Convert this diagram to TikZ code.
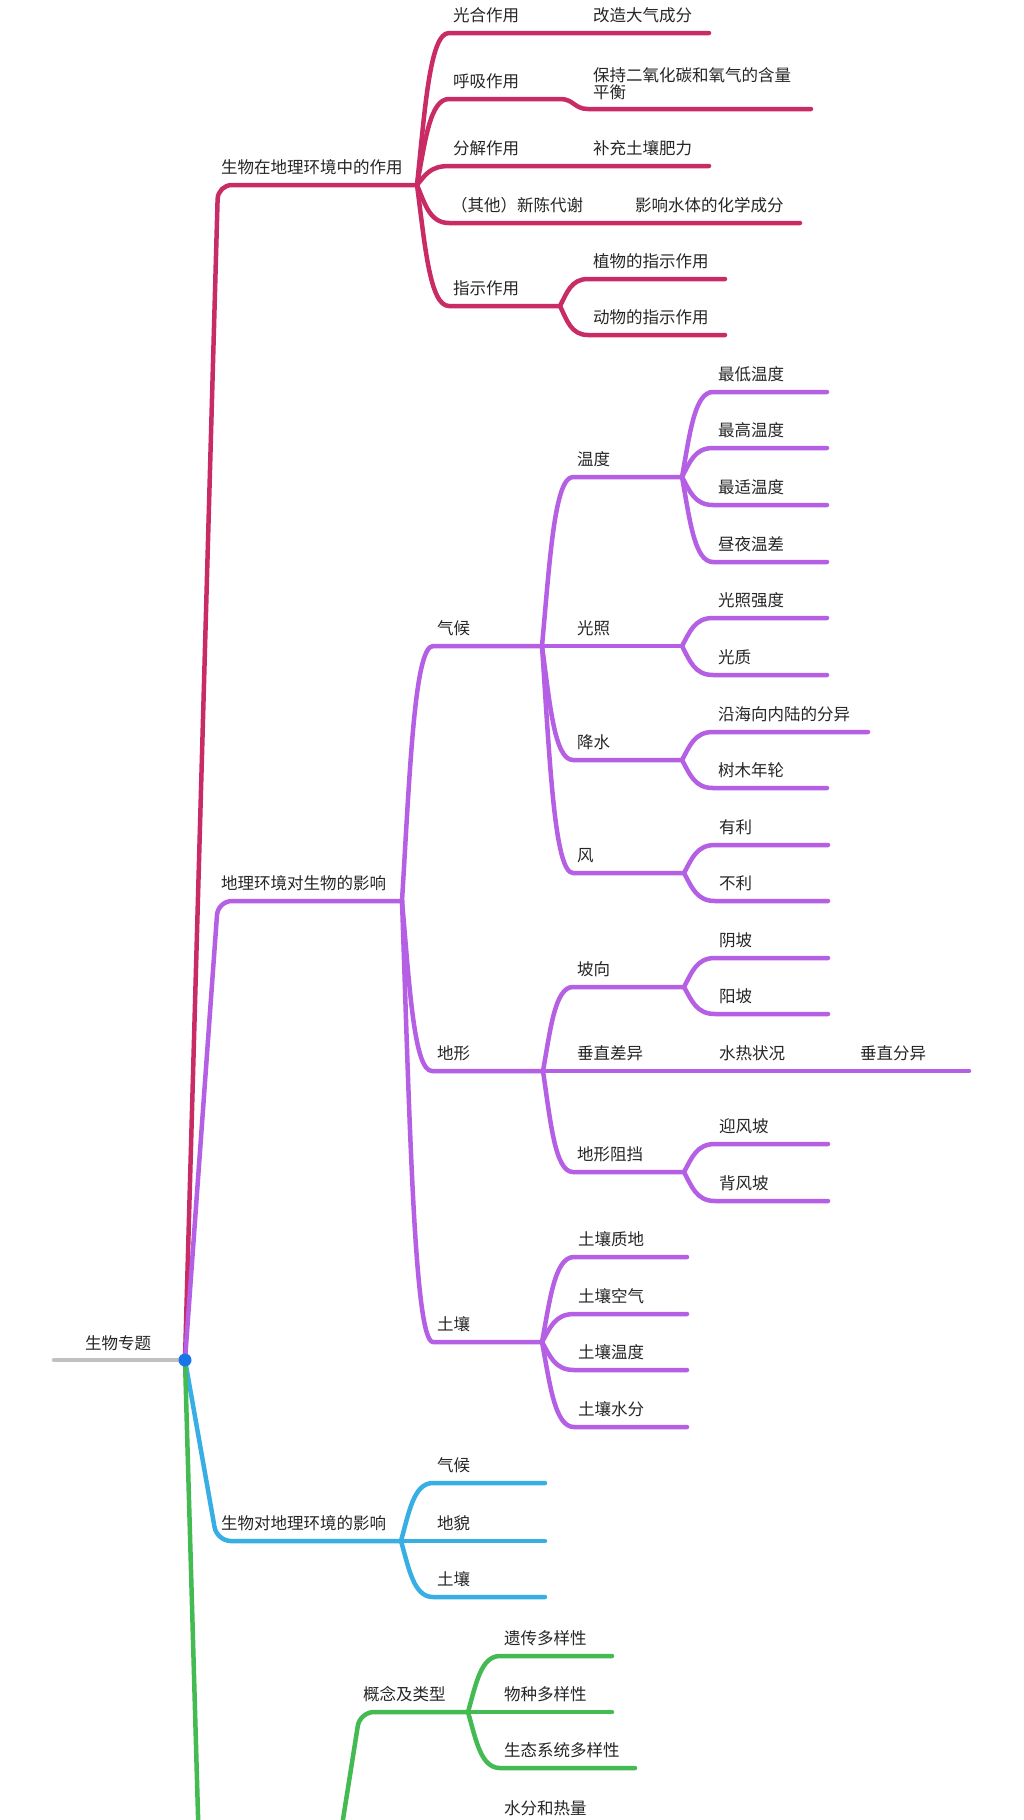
\documentclass[tikz,border=0pt]{standalone}
\usepackage{fontspec}
\setmainfont{Noto Sans CJK SC}
\usetikzlibrary{positioning}
\usetikzlibrary{calc}
\usepackage{xcolor}

\definecolor{mag}{RGB}{201,43,101}
\definecolor{pur}{RGB}{180,95,228}
\definecolor{sky}{RGB}{55,175,228}
\definecolor{grn}{RGB}{68,186,82}
\definecolor{gry}{RGB}{192,192,192}
\definecolor{dotblue}{RGB}{25,118,232}
\definecolor{txt}{RGB}{38,38,38}

\newcommand{\labfont}{\fontsize{16.5pt}{17pt}\selectfont}

\tikzset{
  ln/.style={line width=4.5pt, line cap=round, line join=round},
  br/.style={ln, rounded corners=14pt},
  kid/.style={to path={.. controls ($0.25*(\tikztostart)+0.25*(\tikztostart -| \tikztotarget)+0.5*(\tikztostart |- \tikztotarget)$)
      and ($0.6*(\tikztostart |- \tikztotarget)+0.4*(\tikztotarget)$) .. (\tikztotarget) \tikztonodes}},
  lbl/.style={font=\labfont, text=txt, inner sep=0pt, text height=12pt, text depth=3pt},
  rootdot/.style={circle, fill=dotblue, inner sep=0pt, minimum size=13pt}
}

\begin{document}
\begin{tikzpicture}[x=1pt, y=-1pt]

\fill[white] (0,0) rectangle (1024,1820);
\clip (0,0) rectangle (1024,1820);

% root
\coordinate (root-s) at (54,1360);
\coordinate (root-m) at (118,1360);
\coordinate (root) at (185,1360);
\node[lbl, above=7pt of root-m] (bio) {生物专题};

% magenta branch
\coordinate (role-s) at (218,185);   \coordinate (role-e) at (417,185);
\coordinate (photo-s) at (449,33);   \coordinate (photo-e) at (560,33);
\coordinate (photo2-s) at (588,33);  \coordinate (photo2-e) at (709,33);
\coordinate (resp-s) at (449,99);    \coordinate (resp-e) at (560,99);
\coordinate (resp2-s) at (588,109);  \coordinate (resp2-e) at (811,109);
\coordinate (decomp-s) at (449,166); \coordinate (decomp-e) at (560,166);
\coordinate (decomp2-s) at (588,166);\coordinate (decomp2-e) at (709,166);
\coordinate (meta-s) at (449,223);   \coordinate (meta-e) at (600,223);
\coordinate (meta2-s) at (630,223);  \coordinate (meta2-e) at (800,223);
\coordinate (indic-s) at (449,306);  \coordinate (indic-e) at (560,306);
\coordinate (plant-s) at (588,279);  \coordinate (plant-e) at (725,279);
\coordinate (animal-s) at (588,335); \coordinate (animal-e) at (725,335);

\node[lbl, above right=8pt and 3pt of role-s] (role) {生物在地理环境中的作用};
\node[lbl, above right=8pt and 4pt of photo-s] (photo) {光合作用};
\node[lbl, above right=8pt and 5pt of photo2-s] (photo2) {改造大气成分};
\node[lbl, above right=8pt and 4pt of resp-s] (resp) {呼吸作用};
\node[font=\labfont, text=txt, inner sep=0pt, align=left, above right=9pt and 5pt of resp2-s] (resp2) {保持二氧化碳和氧气的含量\\平衡};
\node[lbl, above right=8pt and 4pt of decomp-s] (decomp) {分解作用};
\node[lbl, above right=8pt and 5pt of decomp2-s] (decomp2) {补充土壤肥力};
\node[lbl, above right=8pt and 2pt of meta-s] (meta) {（其他）新陈代谢};
\node[lbl, above right=8pt and 5pt of meta2-s] (meta2) {影响水体的化学成分};
\node[lbl, above right=8pt and 4pt of indic-s] (indic) {指示作用};
\node[lbl, above right=8pt and 5pt of plant-s] (plant) {植物的指示作用};
\node[lbl, above right=8pt and 5pt of animal-s] (animal) {动物的指示作用};

\draw[br, mag] (root) -- (role-s) -- (role-e);
\draw[ln, mag] (role-e) to[kid] (photo-s) -- (photo-e) -- (photo2-s) -- (photo2-e);
\draw[ln, mag] (role-e) to[kid] (resp-s) -- (resp-e) .. controls +(14,0) and +(-14,0) .. (resp2-s) -- (resp2-e);
\draw[ln, mag] (role-e) to[kid] (decomp-s) -- (decomp-e) -- (decomp2-s) -- (decomp2-e);
\draw[ln, mag] (role-e) to[kid] (meta-s) -- (meta-e) -- (meta2-s) -- (meta2-e);
\draw[ln, mag] (role-e) to[kid] (indic-s) -- (indic-e);
\draw[ln, mag] (indic-e) to[kid] (plant-s) -- (plant-e);
\draw[ln, mag] (indic-e) to[kid] (animal-s) -- (animal-e);

% purple branch
\coordinate (effect-s) at (218,901); \coordinate (effect-e) at (402,901);
\coordinate (clim-s) at (433,646);   \coordinate (clim-e) at (542,646);
\coordinate (temp-s) at (573,477);   \coordinate (temp-e) at (682,477);
\coordinate (tmin-s) at (713,392);   \coordinate (tmin-e) at (827,392);
\coordinate (tmax-s) at (713,448);   \coordinate (tmax-e) at (827,448);
\coordinate (topt-s) at (713,505);   \coordinate (topt-e) at (827,505);
\coordinate (tdiff-s) at (713,562);  \coordinate (tdiff-e) at (827,562);
\coordinate (light-s) at (573,646);  \coordinate (light-e) at (682,646);
\coordinate (lint-s) at (713,618);   \coordinate (lint-e) at (827,618);
\coordinate (lqual-s) at (713,675);  \coordinate (lqual-e) at (827,675);
\coordinate (rain-s) at (573,760);   \coordinate (rain-e) at (682,760);
\coordinate (coast-s) at (713,732);  \coordinate (coast-e) at (868,732);
\coordinate (rings-s) at (713,788);  \coordinate (rings-e) at (827,788);
\coordinate (wind-s) at (573,873);   \coordinate (wind-e) at (684,873);
\coordinate (good-s) at (715,845);   \coordinate (good-e) at (828,845);
\coordinate (bad-s) at (715,901);    \coordinate (bad-e) at (828,901);
\coordinate (terr-s) at (432,1071);  \coordinate (terr-e) at (543,1071);
\coordinate (aspect-s) at (573,987); \coordinate (aspect-e) at (684,987);
\coordinate (shady-s) at (715,958);  \coordinate (shady-e) at (828,958);
\coordinate (sunny-s) at (715,1014); \coordinate (sunny-e) at (828,1014);
\coordinate (vert-s) at (573,1071);  \coordinate (vert-e) at (684,1071);
\coordinate (hydro-s) at (715,1071); \coordinate (hydro-e) at (828,1071);
\coordinate (vzone-s) at (856,1071); \coordinate (vzone-e) at (969,1071);
\coordinate (block-s) at (573,1172); \coordinate (block-e) at (684,1172);
\coordinate (windw-s) at (715,1144); \coordinate (windw-e) at (828,1144);
\coordinate (leew-s) at (715,1201);  \coordinate (leew-e) at (828,1201);
\coordinate (soil-s) at (433,1342);  \coordinate (soil-e) at (542,1342);
\coordinate (stex-s) at (574,1257);  \coordinate (stex-e) at (687,1257);
\coordinate (sair-s) at (574,1314);  \coordinate (sair-e) at (687,1314);
\coordinate (stmp-s) at (574,1370);  \coordinate (stmp-e) at (687,1370);
\coordinate (swat-s) at (574,1427);  \coordinate (swat-e) at (687,1427);

\node[lbl, above right=8pt and 3pt of effect-s] (effect) {地理环境对生物的影响};
\node[lbl, above right=8pt and 4pt of clim-s] (clim) {气候};
\node[lbl, above right=8pt and 4pt of temp-s] (temp) {温度};
\node[lbl, above right=8pt and 5pt of tmin-s] (tmin) {最低温度};
\node[lbl, above right=8pt and 5pt of tmax-s] (tmax) {最高温度};
\node[lbl, above right=8pt and 5pt of topt-s] (topt) {最适温度};
\node[lbl, above right=8pt and 5pt of tdiff-s] (tdiff) {昼夜温差};
\node[lbl, above right=8pt and 4pt of light-s] (light) {光照};
\node[lbl, above right=8pt and 5pt of lint-s] (lint) {光照强度};
\node[lbl, above right=8pt and 5pt of lqual-s] (lqual) {光质};
\node[lbl, above right=8pt and 4pt of rain-s] (rain) {降水};
\node[lbl, above right=8pt and 5pt of coast-s] (coast) {沿海向内陆的分异};
\node[lbl, above right=8pt and 5pt of rings-s] (rings) {树木年轮};
\node[lbl, above right=8pt and 4pt of wind-s] (wind) {风};
\node[lbl, above right=8pt and 4pt of good-s] (good) {有利};
\node[lbl, above right=8pt and 4pt of bad-s] (bad) {不利};
\node[lbl, above right=8pt and 5pt of terr-s] (terr) {地形};
\node[lbl, above right=8pt and 4pt of aspect-s] (aspect) {坡向};
\node[lbl, above right=8pt and 4pt of shady-s] (shady) {阴坡};
\node[lbl, above right=8pt and 4pt of sunny-s] (sunny) {阳坡};
\node[lbl, above right=8pt and 4pt of vert-s] (vert) {垂直差异};
\node[lbl, above right=8pt and 4pt of hydro-s] (hydro) {水热状况};
\node[lbl, above right=8pt and 4pt of vzone-s] (vzone) {垂直分异};
\node[lbl, above right=8pt and 4pt of block-s] (block) {地形阻挡};
\node[lbl, above right=8pt and 4pt of windw-s] (windw) {迎风坡};
\node[lbl, above right=8pt and 4pt of leew-s] (leew) {背风坡};
\node[lbl, above right=8pt and 4pt of soil-s] (soil) {土壤};
\node[lbl, above right=8pt and 4pt of stex-s] (stex) {土壤质地};
\node[lbl, above right=8pt and 4pt of sair-s] (sair) {土壤空气};
\node[lbl, above right=8pt and 4pt of stmp-s] (stmp) {土壤温度};
\node[lbl, above right=8pt and 4pt of swat-s] (swat) {土壤水分};

\draw[br, pur] (root) -- (effect-s) -- (effect-e);
\draw[ln, pur] (effect-e) to[kid] (clim-s) -- (clim-e);
\draw[ln, pur] (clim-e) to[kid] (temp-s) -- (temp-e);
\draw[ln, pur] (temp-e) to[kid] (tmin-s) -- (tmin-e);
\draw[ln, pur] (temp-e) to[kid] (tmax-s) -- (tmax-e);
\draw[ln, pur] (temp-e) to[kid] (topt-s) -- (topt-e);
\draw[ln, pur] (temp-e) to[kid] (tdiff-s) -- (tdiff-e);
\draw[ln, pur] (clim-e) -- (light-s) -- (light-e);
\draw[ln, pur] (light-e) to[kid] (lint-s) -- (lint-e);
\draw[ln, pur] (light-e) to[kid] (lqual-s) -- (lqual-e);
\draw[ln, pur] (clim-e) to[kid] (rain-s) -- (rain-e);
\draw[ln, pur] (rain-e) to[kid] (coast-s) -- (coast-e);
\draw[ln, pur] (rain-e) to[kid] (rings-s) -- (rings-e);
\draw[ln, pur] (clim-e) to[kid] (wind-s) -- (wind-e);
\draw[ln, pur] (wind-e) to[kid] (good-s) -- (good-e);
\draw[ln, pur] (wind-e) to[kid] (bad-s) -- (bad-e);
\draw[ln, pur] (effect-e) to[kid] (terr-s) -- (terr-e);
\draw[ln, pur] (terr-e) to[kid] (aspect-s) -- (aspect-e);
\draw[ln, pur] (aspect-e) to[kid] (shady-s) -- (shady-e);
\draw[ln, pur] (aspect-e) to[kid] (sunny-s) -- (sunny-e);
\draw[ln, pur] (terr-e) -- (vert-s) -- (vert-e) -- (hydro-s) -- (hydro-e) -- (vzone-s) -- (vzone-e);
\draw[ln, pur] (terr-e) to[kid] (block-s) -- (block-e);
\draw[ln, pur] (block-e) to[kid] (windw-s) -- (windw-e);
\draw[ln, pur] (block-e) to[kid] (leew-s) -- (leew-e);
\draw[ln, pur] (effect-e) to[kid] (soil-s) -- (soil-e);
\draw[ln, pur] (soil-e) to[kid] (stex-s) -- (stex-e);
\draw[ln, pur] (soil-e) to[kid] (sair-s) -- (sair-e);
\draw[ln, pur] (soil-e) to[kid] (stmp-s) -- (stmp-e);
\draw[ln, pur] (soil-e) to[kid] (swat-s) -- (swat-e);

% blue branch
\coordinate (impact-s) at (217,1541); \coordinate (impact-e) at (401,1541);
\coordinate (iclim-s) at (433,1483);  \coordinate (iclim-e) at (545,1483);
\coordinate (iland-s) at (433,1541);  \coordinate (iland-e) at (545,1541);
\coordinate (isoil-s) at (433,1597);  \coordinate (isoil-e) at (545,1597);

\node[lbl, above right=8pt and 4pt of impact-s] (impact) {生物对地理环境的影响};
\node[lbl, above right=8pt and 4pt of iclim-s] (iclim) {气候};
\node[lbl, above right=8pt and 4pt of iland-s] (iland) {地貌};
\node[lbl, above right=8pt and 4pt of isoil-s] (isoil) {土壤};

\draw[br, sky] (root) -- (impact-s) -- (impact-e);
\draw[ln, sky] (impact-e) to[kid] (iclim-s) -- (iclim-e);
\draw[ln, sky] (impact-e) -- (iland-s) -- (iland-e);
\draw[ln, sky] (impact-e) to[kid] (isoil-s) -- (isoil-e);

% green branch (runs on below the page)
\coordinate (div-s) at (203,1990);    \coordinate (div-e) at (316,1990);
\coordinate (types-s) at (360,1712);  \coordinate (types-e) at (468,1712);
\coordinate (gene-s) at (500,1656);   \coordinate (gene-e) at (612,1656);
\coordinate (species-s) at (500,1712);\coordinate (species-e) at (612,1712);
\coordinate (eco-s) at (500,1768);    \coordinate (eco-e) at (635,1768);
\coordinate (heat-s) at (500,1826);   \coordinate (heat-e) at (612,1826);

\node[lbl, above right=8pt and 3pt of types-s] (types) {概念及类型};
\node[lbl, above right=8pt and 4pt of gene-s] (gene) {遗传多样性};
\node[lbl, above right=8pt and 4pt of species-s] (species) {物种多样性};
\node[lbl, above right=8pt and 4pt of eco-s] (eco) {生态系统多样性};
\node[lbl, above right=8pt and 4pt of heat-s] (heat) {水分和热量};

\draw[br, grn] (root) -- (div-s) -- (div-e);
\draw[br, grn] (div-e) -- (types-s) -- (types-e);
\draw[ln, grn] (types-e) to[kid] (gene-s) -- (gene-e);
\draw[ln, grn] (types-e) -- (species-s) -- (species-e);
\draw[ln, grn] (types-e) to[kid] (eco-s) -- (eco-e);
\draw[ln, grn] (heat-s) -- (heat-e);

% root line and dot on top
\draw[br, gry] (root-s) -- (root);
\node[rootdot] (rootnode) at (root) {};

\end{tikzpicture}
\end{document}
